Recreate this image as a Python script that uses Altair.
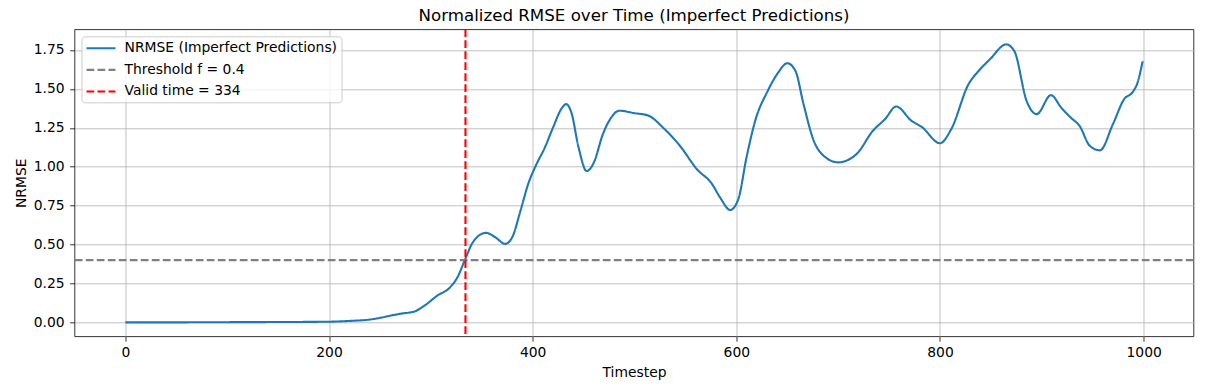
import altair as alt
import pandas as pd

# ---- data ----
timestep = [0, 50, 100, 150, 200, 220, 240, 251, 261, 271, 284, 293, 306, 319, 326, 334,
            341, 354, 363, 373, 380, 388, 396, 403, 412, 420, 429, 433, 438, 445, 453,
            460, 469, 477, 485, 500, 513, 529, 545, 561, 576, 584, 594, 602, 610, 619,
            630, 641, 650, 658, 666, 676, 684, 700, 718, 734, 746, 757, 772, 782, 800,
            811, 828, 838, 849, 865, 873, 885, 895, 909, 919, 929, 937, 947, 957, 970,
            981, 989, 994, 999]
nrmse = [0.0, 0.0, 0.001, 0.002, 0.004, 0.009, 0.018, 0.03, 0.044, 0.056, 0.07, 0.104,
         0.17, 0.226, 0.288, 0.41, 0.512, 0.575, 0.548, 0.504, 0.548, 0.717, 0.897,
         1.006, 1.124, 1.252, 1.38, 1.402, 1.348, 1.126, 0.972, 1.026, 1.21, 1.315,
         1.36, 1.344, 1.33, 1.245, 1.131, 0.986, 0.89, 0.803, 0.722, 0.793, 1.06,
         1.306, 1.476, 1.604, 1.665, 1.616, 1.402, 1.167, 1.081, 1.028, 1.081, 1.23,
         1.306, 1.387, 1.295, 1.256, 1.151, 1.241, 1.53, 1.616, 1.69, 1.786, 1.743,
         1.424, 1.338, 1.46, 1.38, 1.312, 1.263, 1.135, 1.105, 1.276, 1.436, 1.478,
         1.54, 1.677]
threshold = 0.4
valid_time = 334
series_names = ["NRMSE (Imperfect Predictions)", "Threshold f = 0.4", "Valid time = 334"]
series_colors = ["#1f77b4", "#808080", "#ff0000"]
series_dashes = [[1, 0], [7.7, 3.3], [7.7, 3.3]]
x_ticks = [0, 200, 400, 600, 800, 1000]
y_ticks = [0.0, 0.25, 0.5, 0.75, 1.0, 1.25, 1.5, 1.75]

df_line = pd.DataFrame({"Timestep": timestep, "NRMSE": nrmse, "series": series_names[0]})
df_h = pd.DataFrame({"NRMSE": [threshold], "series": [series_names[1]]})
df_v = pd.DataFrame({"Timestep": [valid_time], "series": [series_names[2]]})

FONT = "DejaVu Sans"

leg = alt.Legend(
    title=None, orient="top-left", offset=6.5, padding=3.5, rowPadding=5.6,
    symbolType="M-1,0H3.14", symbolSize=196, symbolStrokeWidth=2.1, labelOffset=22.5,
    symbolFillColor="transparent",
    labelFont=FONT, labelFontSize=13.9, labelColor="black",
    fillColor="rgba(255,255,255,0.8)", strokeColor="#cccccc", cornerRadius=3,
    labelLimit=400,
)
color = alt.Color("series:N", scale=alt.Scale(domain=series_names, range=series_colors), legend=leg)
dash = alt.StrokeDash("series:N", scale=alt.Scale(domain=series_names, range=series_dashes), legend=leg)

xscale = alt.Scale(domain=[-49.95, 1048.95], nice=False, zero=False)
yscale = alt.Scale(domain=[-0.0897, 1.883], nice=False, zero=False)
xaxis = alt.Axis(values=x_ticks, format="d", title="Timestep", labelPadding=4, titlePadding=6)
yaxis = alt.Axis(values=y_ticks, format=".2f", title="NRMSE", labelPadding=5.5, titlePadding=5)

line = alt.Chart(df_line).mark_line(strokeWidth=2.1, interpolate="monotone").encode(
    x=alt.X("Timestep:Q", scale=xscale, axis=xaxis),
    y=alt.Y("NRMSE:Q", scale=yscale, axis=yaxis),
    color=color, strokeDash=dash,
)
hrule = alt.Chart(df_h).mark_rule(strokeWidth=2.1).encode(
    y=alt.Y("NRMSE:Q", scale=yscale), color=color, strokeDash=dash,
)
vrule = alt.Chart(df_v).mark_rule(strokeWidth=2.1).encode(
    x=alt.X("Timestep:Q", scale=xscale), color=color, strokeDash=dash,
)

chart = alt.layer(line, hrule, vrule).properties(
    width=1119, height=307,
    autosize=alt.AutoSizeParams(type="none"),
    padding={"left": 66.5, "top": 21.3, "right": 10, "bottom": 49},
    title=alt.Title("Normalized RMSE over Time (Imperfect Predictions)", font=FONT,
                    fontSize=16.67, fontWeight="normal", color="black",
                    anchor="middle", frame="group", baseline="alphabetic", offset=-9.1),
).configure_view(stroke="black", strokeWidth=0.8).configure_axis(
    grid=True, gridColor="#b0b0b0", gridWidth=0.8, domain=False,
    tickColor="black", tickWidth=0.8, tickSize=4.86,
    labelFont=FONT, labelFontSize=13.9, labelColor="black",
    titleFont=FONT, titleFontSize=13.9, titleFontWeight="normal", titleColor="black",
)

chart.save("out.html", embed_options={"renderer": "svg", "actions": False})
